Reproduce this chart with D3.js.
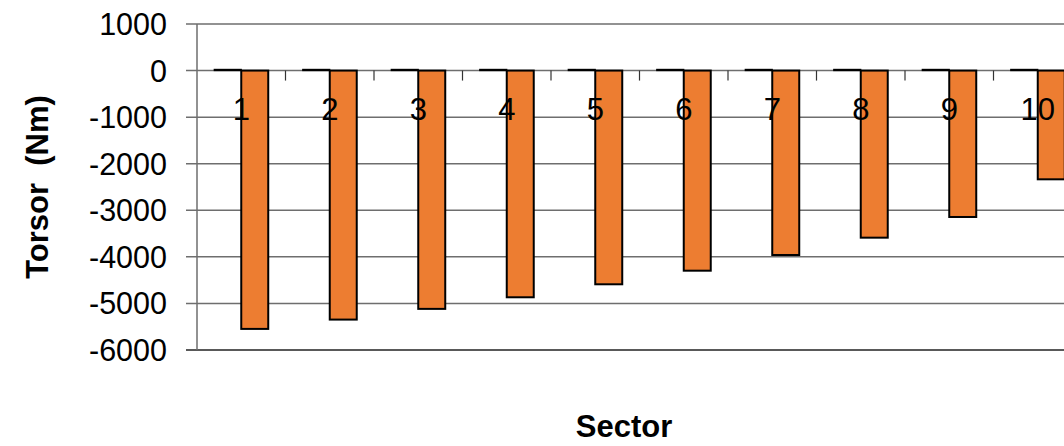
<!DOCTYPE html>
<html>
<head>
<meta charset="utf-8">
<script src="https://cdn.jsdelivr.net/npm/d3@7"></script>
<style>
  html, body { margin: 0; padding: 0; background: #fff; }
  svg { display: block; font-family: "Liberation Sans", Arial, sans-serif; }
</style>
</head>
<body>
<svg id="chart" width="1064" height="446"></svg>
<script>
const categories = ["1","2","3","4","5","6","7","8","9","10"];
const seriesNames = ["A", "B"];
const seriesA = [25, 25, 25, 25, 25, 25, 25, 25, 25, 25];
const seriesB = [-5547, -5347, -5117, -4868, -4589, -4297, -3960, -3588, -3144, -2335];
const yTicks = [1000, 0, -1000, -2000, -3000, -4000, -5000, -6000];
const colors = ["#000000", "#ED7D31"];

(function () {
const svg = d3.select("#chart");
const plotLeft = 197, plotRight = 1082, plotTop = 24, plotBottom = 350;

const y = d3.scaleLinear().domain([-6000, 1000]).range([plotBottom, plotTop]);
const x0 = d3.scaleBand().domain(categories).range([plotLeft, plotRight]).paddingInner(0).paddingOuter(0);
const bw = x0.bandwidth();
const x1 = d3.scaleBand().domain(seriesNames).range([bw * 0.195, bw * 0.805]).padding(0);

const rows = categories.map((c, i) => ({ cat: c, vals: [seriesA[i], seriesB[i]] }));

// gridlines
svg.append("g").selectAll("line").data(yTicks).join("line")
  .attr("x1", plotLeft - 11).attr("x2", 1064)
  .attr("y1", d => y(d)).attr("y2", d => y(d))
  .attr("stroke", d => d === -6000 ? "#222" : "#6e6e6e")
  .attr("stroke-width", 1.5);

// y axis line
svg.append("line").attr("x1", plotLeft).attr("x2", plotLeft)
  .attr("y1", y(1000)).attr("y2", y(-6000))
  .attr("stroke", "#6e6e6e").attr("stroke-width", 1.5);

// y tick labels
svg.append("g").selectAll("text").data(yTicks).join("text")
  .attr("x", plotLeft - 30).attr("y", d => y(d))
  .attr("text-anchor", "end").attr("dominant-baseline", "central")
  .attr("font-size", 30.5).attr("fill", "#000")
  .text(d => d);

// category tick marks on zero line
svg.append("g").selectAll("line").data(categories.slice(1)).join("line")
  .attr("x1", d => x0(d)).attr("x2", d => x0(d))
  .attr("y1", y(0)).attr("y2", y(0) + 10)
  .attr("stroke", "#333").attr("stroke-width", 1.2);

// bars
const groups = svg.append("g").selectAll("g").data(rows).join("g")
  .attr("transform", d => `translate(${x0(d.cat)},0)`);
groups.selectAll("rect").data(d => d.vals.map((v, i) => ({ s: seriesNames[i], v, i }))).join("rect")
  .attr("x", d => x1(d.s))
  .attr("width", x1.bandwidth())
  .attr("y", d => y(Math.max(0, d.v)))
  .attr("height", d => Math.abs(y(d.v) - y(0)))
  .attr("fill", d => colors[d.i])
  .attr("stroke", "#000").attr("stroke-width", d => d.i === 0 ? 1.2 : 2);

// category labels
svg.append("g").selectAll("text").data(categories).join("text")
  .attr("x", d => x0(d) + bw / 2).attr("y", y(0) + 49)
  .attr("text-anchor", "middle")
  .attr("font-size", 31).attr("fill", "#000")
  .text(d => d);

// axis titles
svg.append("text")
  .attr("transform", `translate(37,187) rotate(-90)`)
  .attr("text-anchor", "middle").attr("dominant-baseline", "central")
  .attr("font-size", 31).attr("font-weight", "bold")
  .attr("xml:space", "preserve")
  .style("white-space", "pre")
  .text("Torsor  (Nm)");

svg.append("text")
  .attr("x", 624).attr("y", 437)
  .attr("text-anchor", "middle")
  .attr("font-size", 31).attr("font-weight", "bold")
  .text("Sector");
})();
</script>
</body>
</html>
